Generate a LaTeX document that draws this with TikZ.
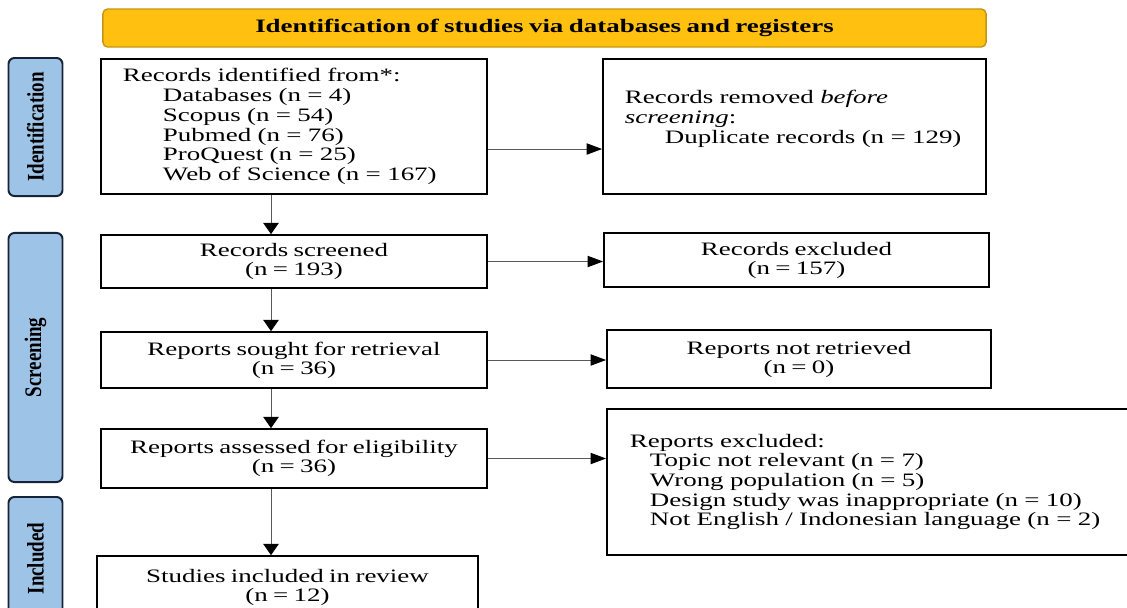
\documentclass[tikz,border=0pt]{standalone}
\usepackage{fontspec}
\usepackage{graphicx}
\setmainfont{Liberation Serif}[FakeStretch=1.42, WordSpace=0.8]
\newfontfamily\phasefont{Liberation Serif}
\usepackage{xcolor}
\usepackage{tikz}
\usetikzlibrary{positioning,calc,arrows.meta}
\definecolor{bannergold}{RGB}{255,192,16}
\definecolor{bannerline}{RGB}{196,150,20}
\definecolor{phaseblue}{RGB}{157,195,230}
\definecolor{phaseline}{RGB}{25,35,55}

\begin{document}
\begin{tikzpicture}[x=0.025cm, y=-0.025cm,
    box/.style={draw, line width=1.2pt, align=center, font=\fontsize{13.5}{13.5}\selectfont},
    listbox/.style={draw, line width=1.2pt, align=left, inner ysep=0pt, font=\fontsize{13.5}{14}\selectfont},
    banner/.style={draw=bannerline, fill=bannergold, line width=1pt, rounded corners=0.12cm, font=\fontsize{13.5}{13.5}\selectfont\bfseries},
    phase/.style={draw=phaseline, fill=phaseblue, line width=1.4pt, rounded corners=0.15cm, minimum width=1.35cm},
    vflow/.style={draw=gray!70!black, line width=0.7pt, -{Triangle[length=8pt,width=11pt,color=black]}},
    hflow/.style={draw=gray!70!black, line width=0.7pt, -{Triangle[length=11pt,width=8pt,color=black]}}]
    \useasboundingbox (0,0) rectangle (1127,607);
    \clip (0,0) rectangle (1127,607);

    % Header
    \node[banner, minimum width=22.075cm, minimum height=0.95cm] (banner) at (544.5,28) {Identification of studies via databases and registers};

    % Phases
    \node[phase, minimum height=3.45cm] (phaseid) at (35.5,127) {\rotatebox{90}{\scalebox{1}[1.25]{\phasefont\fontsize{13.5}{13.5}\selectfont\bfseries Identification}}};
    \node[phase, minimum height=6.225cm] (phasescr) at (35.5,357.5) {\rotatebox{90}{\scalebox{1}[1.25]{\phasefont\fontsize{13.5}{13.5}\selectfont\bfseries Screening}}};
    \node[phase, minimum height=3.075cm] (phaseinc) at (35.5,558.5) {\rotatebox{90}{\scalebox{1}[1.25]{\phasefont\fontsize{13.5}{13.5}\selectfont\bfseries Included}}};

    % Main column
    \node[listbox, text width=8.55cm, inner xsep=0.55cm, minimum height=3.375cm] (ident) at (294,126.5) {Records identified from*:\\
        \hspace*{1cm}Databases (n = 4)\\
        \hspace*{1cm}Scopus (n = 54)\\
        \hspace*{1cm}Pubmed (n = 76)\\
        \hspace*{1cm}ProQuest (n = 25)\\
        \hspace*{1cm}Web of Science (n = 167)};
    \node[box, minimum width=9.65cm, minimum height=1.325cm] (screened) at (294,261.5) {Records screened\\(n = 193)};
    \node[box, minimum width=9.65cm, minimum height=1.4cm] (sought) at (294,360) {Reports sought for retrieval\\(n = 36)};
    \node[box, minimum width=9.65cm, minimum height=1.475cm] (assessed) at (294,458.5) {Reports assessed for eligibility\\(n = 36)};
    \node[box, minimum width=9.525cm, minimum height=1.55cm] (included) at (287.5,587) {Studies included in review\\(n = 12)};

    % Side column
    \node[listbox, text width=8.475cm, inner xsep=0.55cm, minimum height=3.375cm] (removed) at (794.5,126.5) {Records removed \textit{before}\\
        \textit{screening}:\\
        \hspace*{1cm}\mbox{Duplicate records (n = 129)}\\
        \mbox{}};
    \node[box, minimum width=9.625cm, minimum height=1.35cm] (recexcl) at (796.5,260) {Records excluded\\(n = 157)};
    \node[box, minimum width=9.6cm, minimum height=1.45cm] (notretr) at (799,359) {Reports not retrieved\\(n = 0)};
    \node[listbox, text width=12.175cm, inner xsep=0.575cm, minimum height=3.65cm] (repexcl) at (873.5,482) {Reports excluded:\\
        \hspace*{0.5cm}Topic not relevant (n = 7)\\
        \hspace*{0.5cm}Wrong population (n = 5)\\
        \hspace*{0.5cm}Design study was inappropriate (n = 10)\\
        \hspace*{0.5cm}Not English / Indonesian language (n = 2)};

    % Arrows
    \coordinate (col) at (271,0);
    \coordinate (idrow) at (0,149);
    \draw[vflow] (ident.south -| col) -- (screened.north -| col);
    \draw[vflow] (screened.south -| col) -- (sought.north -| col);
    \draw[vflow] (sought.south -| col) -- (assessed.north -| col);
    \draw[vflow] (assessed.south -| col) -- (included.north -| col);
    \draw[hflow] (ident.east |- idrow) -- (removed.west |- idrow);
    \draw[hflow] (screened.east) -- (screened.east -| recexcl.west);
    \draw[hflow] (sought.east) -- (sought.east -| notretr.west);
    \draw[hflow] (assessed.east) -- (assessed.east -| repexcl.west);
\end{tikzpicture}
\end{document}
